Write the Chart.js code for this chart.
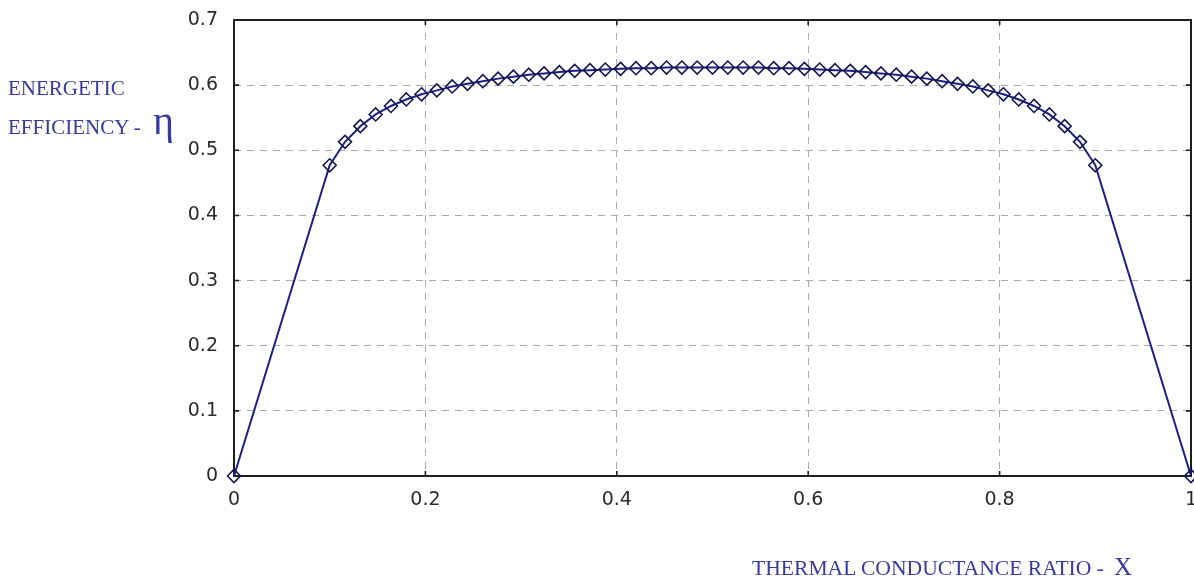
<!DOCTYPE html>
<html>
<head>
<meta charset="utf-8">
<script src="https://cdn.jsdelivr.net/npm/chart.js@4.4.1/dist/chart.umd.min.js"></script>
<style>
html,body{margin:0;padding:0;background:#ffffff;}
#wrap{position:relative;width:1194px;height:578px;overflow:hidden;background:#fff;}
#c{position:absolute;left:0;top:0;}
.ttl{position:absolute;font-family:"Liberation Serif","Times New Roman",serif;color:#3a3a9c;white-space:nowrap;line-height:1.2;}
.probe{display:inline-block;width:0;height:0;vertical-align:baseline;}
</style>
</head>
<body>
<div id="wrap">
<canvas id="c" width="1194" height="578"></canvas>
<div class="ttl" id="t1" style="font-size:21px;">ENERGETIC<span class="probe"></span></div>
<div class="ttl" id="t2" style="font-size:21px;">EFFICIENCY -<span class="probe"></span></div>
<div class="ttl" id="t3" style="font-size:40px;">η<span class="probe"></span></div>
<div class="ttl" id="t4" style="font-size:21.6px;">THERMAL CONDUCTANCE RATIO -<span class="probe"></span></div>
<div class="ttl" id="t5" style="font-size:25px;">X<span class="probe"></span></div>
</div>
<script>
// ---- data ----
const xValues = [0, 0.1, 0.116, 0.132, 0.148, 0.164, 0.18, 0.196, 0.212, 0.228, 0.244,
  0.26, 0.276, 0.292, 0.308, 0.324, 0.34, 0.356, 0.372, 0.388, 0.404,
  0.42, 0.436, 0.452, 0.468, 0.484, 0.5, 0.516, 0.532, 0.548, 0.564,
  0.58, 0.596, 0.612, 0.628, 0.644, 0.66, 0.676, 0.692, 0.708, 0.724,
  0.74, 0.756, 0.772, 0.788, 0.804, 0.82, 0.836, 0.852, 0.868, 0.884, 0.9, 1];
const etaValues = [0, 0.477, 0.513, 0.537, 0.555, 0.568, 0.578, 0.586, 0.592, 0.598, 0.602,
  0.606, 0.610, 0.613, 0.616, 0.618, 0.620, 0.622, 0.623, 0.624, 0.625,
  0.626, 0.626, 0.627, 0.627, 0.627, 0.627, 0.627, 0.627, 0.627, 0.626,
  0.626, 0.625, 0.624, 0.623, 0.622, 0.620, 0.618, 0.616, 0.613, 0.610,
  0.606, 0.602, 0.598, 0.592, 0.586, 0.578, 0.568, 0.555, 0.537, 0.513, 0.477, 0];
const xTickValues = [0, 0.2, 0.4, 0.6, 0.8, 1];
const xTickLabels = ["0", "0.2", "0.4", "0.6", "0.8", "1"];
const yTickValues = [0, 0.1, 0.2, 0.3, 0.4, 0.5, 0.6, 0.7];
const yTickLabels = ["0", "0.1", "0.2", "0.3", "0.4", "0.5", "0.6", "0.7"];

const points = xValues.map((x, i) => ({x: x, y: etaValues[i]}));

const framePlugin = {
  id: 'frame',
  beforeDatasetsDraw(chart) {
    const {ctx, chartArea: a, scales} = chart;
    ctx.save();
    ctx.strokeStyle = '#1e1e1e';
    ctx.lineWidth = 1.6;
    const tl = 5;
    ctx.beginPath();
    scales.x.ticks.forEach(t => {
      const px = scales.x.getPixelForValue(t.value);
      ctx.moveTo(px, a.bottom); ctx.lineTo(px, a.bottom - tl);
      ctx.moveTo(px, a.top); ctx.lineTo(px, a.top + tl);
    });
    scales.y.ticks.forEach(t => {
      const py = scales.y.getPixelForValue(t.value);
      ctx.moveTo(a.left, py); ctx.lineTo(a.left + tl, py);
      ctx.moveTo(a.right, py); ctx.lineTo(a.right - tl, py);
    });
    ctx.stroke();
    ctx.lineWidth = 2;
    ctx.strokeRect(a.left, a.top, a.right - a.left, a.bottom - a.top);
    ctx.restore();
  }
};

const tickFont = {family: '"DejaVu Sans", Verdana, sans-serif', size: 19};

new Chart(document.getElementById('c'), {
  type: 'line',
  data: {
    datasets: [{
      data: points,
      borderColor: '#1f1f82',
      borderWidth: 2,
      backgroundColor: 'rgba(255,255,255,0)',
      pointStyle: 'rectRot',
      pointRadius: 6.5,
      pointBorderWidth: 1.6,
      pointBorderColor: '#15154f',
      pointBackgroundColor: 'rgba(255,255,255,0)',
      tension: 0,
      clip: false
    }]
  },
  options: {
    responsive: false,
    animation: false,
    devicePixelRatio: 1,
    layout: {autoPadding: false, padding: {left: 0, right: 3, top: 20, bottom: 0}},
    plugins: {legend: {display: false}, tooltip: {enabled: false}, title: {display: false}},
    scales: {
      x: {
        type: 'linear', min: 0, max: 1,
        afterBuildTicks: s => { s.ticks = xTickValues.map(v => ({value: v})); },
        afterFit: s => { s.height = 102; s.paddingLeft = 0; s.paddingRight = 0; },
        ticks: {
          color: '#2a2a2a', font: tickFont, padding: 13, maxRotation: 0,
          callback: (v, i) => xTickLabels[i]
        },
        grid: {color: '#aaaaaa', lineWidth: 1, drawTicks: false, tickLength: 0},
        border: {display: false, dash: [7, 6]}
      },
      y: {
        type: 'linear', min: 0, max: 0.7,
        afterBuildTicks: s => { s.ticks = yTickValues.map(v => ({value: v})); },
        afterFit: s => { s.width = 234; s.paddingTop = 0; s.paddingBottom = 0; },
        ticks: {
          color: '#2a2a2a', font: tickFont, padding: 16,
          callback: (v, i) => yTickLabels[i]
        },
        grid: {color: '#aaaaaa', lineWidth: 1, drawTicks: false, tickLength: 0},
        border: {display: false, dash: [7, 6]}
      }
    }
  },
  plugins: [framePlugin]
});

function placeText(id, left, baseline) {
  const el = document.getElementById(id);
  el.style.left = left + 'px';
  el.style.top = '0px';
  const wrapTop = document.getElementById('wrap').getBoundingClientRect().top;
  const b = el.querySelector('.probe').getBoundingClientRect().top - wrapTop;
  el.style.top = (baseline - b) + 'px';
}
placeText('t1', 8, 95);
placeText('t2', 8, 134);
placeText('t3', 153, 134);
placeText('t4', 752, 575);
placeText('t5', 1114, 575);
</script>
</body>
</html>
